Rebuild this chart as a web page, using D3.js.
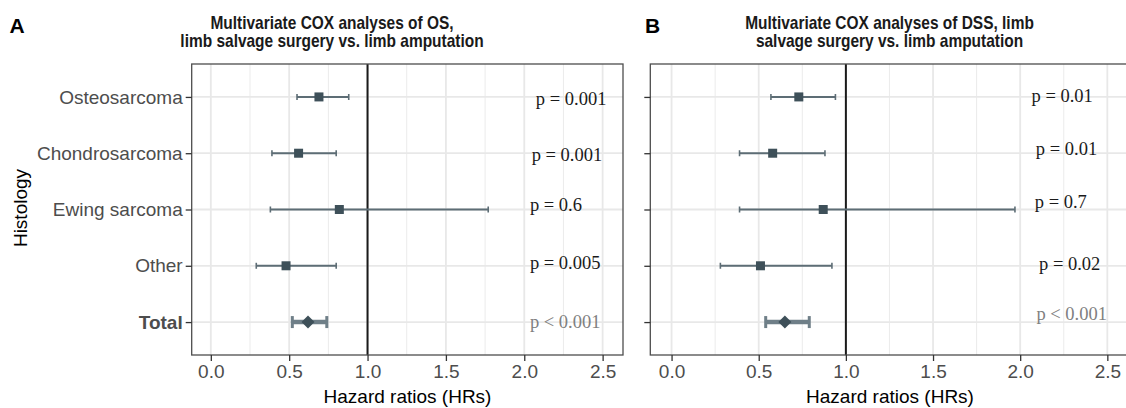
<!DOCTYPE html>
<html><head><meta charset="utf-8">
<script src="https://cdn.jsdelivr.net/npm/d3@7"></script>
<style>
body{margin:0;background:#fff;}
svg{display:block;}
</style></head>
<body><svg id="chart" width="1126" height="408"></svg>
<script>
// ---------- data ----------
const categories = ["Osteosarcoma", "Chondrosarcoma", "Ewing sarcoma", "Other", "Total"];
const xTicks = [0, 0.5, 1.0, 1.5, 2.0, 2.5];
const xMinorTicks = [0.25, 0.75, 1.25, 1.75, 2.25];

// Panel A: OS
const osHR    = [0.69, 0.56, 0.82, 0.48, 0.62];
const osLower = [0.55, 0.39, 0.38, 0.29, 0.52];
const osUpper = [0.88, 0.80, 1.77, 0.80, 0.74];
const osP     = ["p = 0.001", "p = 0.001", "p = 0.6", "p = 0.005", "p < 0.001"];
const osPx    = [2.074, 2.047, 2.036, 2.036, 2.036];
const osPdy   = [0.036, 0.023, -0.089, -0.064, -0.018];

// Panel B: DSS
const dssHR    = [0.73, 0.58, 0.87, 0.51, 0.65];
const dssLower = [0.57, 0.39, 0.39, 0.28, 0.54];
const dssUpper = [0.94, 0.88, 1.97, 0.92, 0.79];
const dssP     = ["p = 0.01", "p = 0.01", "p = 0.7", "p = 0.02", "p < 0.001"];
const dssPx    = [2.065, 2.09, 2.084, 2.108, 2.093];
const dssPdy   = [-0.023, -0.078, -0.147, -0.041, -0.155];

const svg = d3.select("#chart");
const SANS = "'Liberation Sans', Arial, Helvetica, sans-serif";
const SERIF = "'Liberation Serif', 'Times New Roman', serif";
const FS = 19;

function panel(cfg) {
  const {left, right, top, bottom, hr, lo, hi, pl, px, pdy, title, tag, titleX, showY} = cfg;
  const x = d3.scaleLinear().domain([-0.122, 2.63]).range([left, right]);
  const y = d3.scalePoint().domain(categories).range([top, bottom]).padding(0.585);
  const g = svg.append("g");

  const clipId = "clip" + tag;
  svg.append("clipPath").attr("id", clipId).append("rect")
    .attr("x", left).attr("y", top).attr("width", right - left).attr("height", bottom - top);
  const inner = g.append("g").attr("clip-path", `url(#${clipId})`);

  // grid
  inner.selectAll(".minor").data(xMinorTicks).join("line")
    .attr("x1", d => x(d)).attr("x2", d => x(d)).attr("y1", top).attr("y2", bottom)
    .attr("stroke", "#ebebeb").attr("stroke-width", 1);
  inner.selectAll(".major").data(xTicks).join("line")
    .attr("x1", d => x(d)).attr("x2", d => x(d)).attr("y1", top).attr("y2", bottom)
    .attr("stroke", "#e8e8e8").attr("stroke-width", 1.8);
  inner.selectAll(".hgrid").data(categories).join("line")
    .attr("x1", left).attr("x2", right).attr("y1", d => y(d)).attr("y2", d => y(d))
    .attr("stroke", "#e8e8e8").attr("stroke-width", 1.8);

  // reference line
  inner.append("line").attr("x1", x(1)).attr("x2", x(1)).attr("y1", top).attr("y2", bottom)
    .attr("stroke", "#1a1a1a").attr("stroke-width", 2);

  // error bars
  categories.forEach((c, i) => {
    const isTotal = c === "Total";
    const yy = y(c);
    const col = isTotal ? "#6f7f88" : "#5d6d75";
    const sw = isTotal ? 4.5 : 2;
    const capH = isTotal ? 6 : 3;
    const capW = isTotal ? 3 : 1.6;
    inner.append("line").attr("x1", x(lo[i])).attr("x2", x(hi[i])).attr("y1", yy).attr("y2", yy)
      .attr("stroke", col).attr("stroke-width", sw);
    [lo[i], hi[i]].forEach(v => {
      inner.append("line").attr("x1", x(v)).attr("x2", x(v)).attr("y1", yy - capH).attr("y2", yy + capH)
        .attr("stroke", col).attr("stroke-width", capW);
    });
    if (isTotal) {
      const r = 6.5;
      inner.append("path")
        .attr("d", `M${x(hr[i])},${yy - r}L${x(hr[i]) + r},${yy}L${x(hr[i])},${yy + r}L${x(hr[i]) - r},${yy}Z`)
        .attr("fill", "#3e5059");
    } else {
      const s = 9;
      inner.append("rect").attr("x", x(hr[i]) - s / 2).attr("y", yy - s / 2)
        .attr("width", s).attr("height", s).attr("fill", "#3e5059");
    }
    // p labels
    const step = y.step();
    g.append("text").attr("x", x(px[i])).attr("y", yy + pdy[i] * step).attr("dy", "0.35em")
      .attr("font-family", SERIF).attr("font-size", 18.5)
      .attr("fill", isTotal ? "#808080" : "#1a1a1a")
      .text(pl[i]);
  });

  // border
  g.append("rect").attr("x", left).attr("y", top).attr("width", right - left).attr("height", bottom - top)
    .attr("fill", "none").attr("stroke", "#4d4d4d").attr("stroke-width", 1.3);

  // x axis
  const xa = g.append("g").attr("transform", `translate(0,${bottom})`)
    .call(d3.axisBottom(x).tickValues(xTicks).tickFormat(d3.format(".1f")).tickSizeOuter(0).tickSize(6).tickPadding(4));
  xa.select(".domain").remove();
  xa.selectAll(".tick line").attr("stroke", "#333").attr("stroke-width", 1.3);
  xa.selectAll(".tick text").attr("font-family", SANS).attr("font-size", FS).attr("fill", "#4d4d4d");

  // y axis
  const ya = g.append("g").attr("transform", `translate(${left},0)`)
    .call(d3.axisLeft(y).tickSize(6).tickPadding(3).tickFormat(d => showY ? d : ""));
  ya.select(".domain").remove();
  ya.selectAll(".tick line").attr("stroke", "#333").attr("stroke-width", 1.3);
  ya.selectAll(".tick text").attr("font-family", SANS).attr("font-size", FS).attr("fill", "#4d4d4d")
    .attr("font-weight", d => d === "Total" ? "bold" : "normal");

  // x axis title
  g.append("text").attr("x", cfg.axisTitleX).attr("y", 403).attr("text-anchor", "middle")
    .attr("font-family", SANS).attr("font-size", FS).attr("fill", "#000")
    .text("Hazard ratios (HRs)");

  // title (slightly condensed bold)
  title.forEach((t, k) => {
    g.append("text").attr("transform", `translate(${titleX},${29.3 + k * 17.4}) scale(0.86,1)`)
      .attr("text-anchor", "middle")
      .attr("font-family", SANS).attr("font-weight", "bold").attr("font-size", 18).attr("fill", "#1a1a1a")
      .text(t);
  });
  // tag
  g.append("text").attr("x", cfg.tagX).attr("y", 33).attr("font-family", SANS).attr("font-weight", "bold")
    .attr("font-size", 21).attr("fill", "#000").text(tag);
}

panel({left: 191.7, right: 623, top: 64, bottom: 355,
  hr: osHR, lo: osLower, hi: osUpper, pl: osP, px: osPx, pdy: osPdy,
  title: ["Multivariate COX analyses of OS,", "limb salvage surgery vs. limb amputation"],
  tag: "A", tagX: 9.5, titleX: 332, axisTitleX: 407.5, showY: true});

panel({left: 650.3, right: 1130, top: 64, bottom: 355,
  hr: dssHR, lo: dssLower, hi: dssUpper, pl: dssP, px: dssPx, pdy: dssPdy,
  title: ["Multivariate COX analyses of DSS, limb", "salvage surgery vs. limb amputation"],
  tag: "B", tagX: 645, titleX: 889.5, axisTitleX: 890, showY: false});

// y axis title
svg.append("text").attr("transform", "translate(26.5,208) rotate(-90)").attr("text-anchor", "middle")
  .attr("font-family", SANS).attr("font-size", FS).attr("fill", "#000").text("Histology");
</script>
</body></html>
